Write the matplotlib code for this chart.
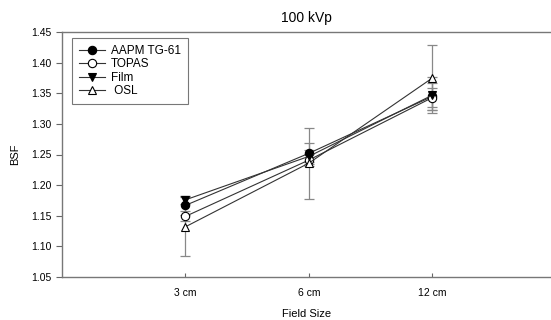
import matplotlib
matplotlib.use("Agg")
import matplotlib.pyplot as plt

# Data
field_sizes = ["3 cm", "6 cm", "12 cm"]
aapm = [1.167, 1.252, 1.345]
aapm_err = [0.015, 0.017, 0.022]
topas = [1.149, 1.241, 1.343]
topas_err = [0.008, 0.010, 0.015]
film = [1.176, 1.247, 1.347]
film_err = [0.007, 0.010, 0.030]
osl = [1.132, 1.236, 1.375]
osl_err = [0.048, 0.058, 0.053]

plt.rcParams["font.family"] = ["Liberation Sans", "DejaVu Sans"]

fig = plt.figure(figsize=(5.51, 3.2), dpi=100)
ax = fig.add_axes([62 / 551, 43 / 320, 1 - 62 / 551, 245 / 320])

x = [1, 2, 3]
series = [
    (aapm, aapm_err, "AAPM TG-61", "o", "black"),
    (topas, topas_err, "TOPAS", "o", "white"),
    (film, film_err, "Film", "v", "black"),
    (osl, osl_err, " OSL", "^", "white"),
]
# error bars first, then lines with markers on top
for vals, err, label, marker, face in series:
    ax.errorbar(x, vals, yerr=err, fmt="none", ecolor="#888888",
                elinewidth=0.9, capsize=3.5, capthick=0.9)
for vals, err, label, marker, face in series:
    ax.plot(x, vals, color="#333333", lw=0.8, marker=marker, markersize=6,
            markerfacecolor=face, markeredgecolor="black",
            markeredgewidth=0.8, label=label)

ax.set_xlim(0, 3.96)
ax.set_ylim(1.05, 1.45)
ax.set_xticks(x)
ax.set_xticklabels(field_sizes)
ax.set_yticks([1.05, 1.10, 1.15, 1.20, 1.25, 1.30, 1.35, 1.40, 1.45])
ax.set_yticklabels(["1.05", "1.10", "1.15", "1.20", "1.25", "1.30", "1.35", "1.40", "1.45"])
ax.tick_params(axis="y", direction="out", length=4, labelsize=7.5, color="#666666")
ax.tick_params(axis="x", direction="in", length=3, labelsize=7.5, color="#666666", pad=8)
for s in ["left", "bottom", "top"]:
    ax.spines[s].set_color("#777777")
    ax.spines[s].set_linewidth(1.0)
ax.spines["right"].set_visible(False)

ax.set_title("100 kVp", fontsize=10, pad=7)
ax.set_xlabel("Field Size", fontsize=8, labelpad=8)
ax.set_ylabel("BSF", fontsize=8, labelpad=8)

leg = ax.legend(loc="upper left", bbox_to_anchor=(0.02, 0.976), fontsize=8.5,
                frameon=True, fancybox=False, edgecolor="#555555", borderaxespad=0,
                handlelength=2.2, borderpad=0.6, labelspacing=0.12, handletextpad=0.5)
leg.get_frame().set_linewidth(0.8)

fig.savefig("out.png", dpi=100)
